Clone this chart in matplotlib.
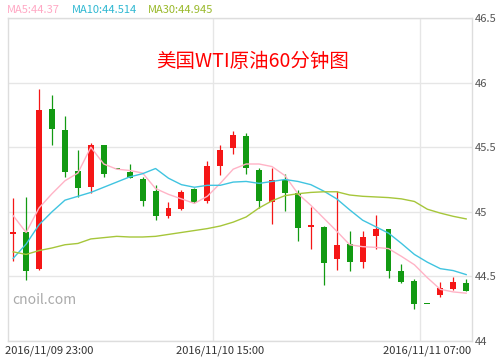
import matplotlib
matplotlib.use('Agg')
import matplotlib.pyplot as plt
import matplotlib.transforms as mtransforms

plt.rcParams['font.family'] = ['Noto Sans CJK SC', 'DejaVu Sans']

# hourly candles, 2016/11/09 23:00 .. 2016/11/11 10:00
x_labels = ['2016/11/09 23:00', '2016/11/10 15:00', '2016/11/11 07:00']
x_label_idx = [0, 16, 32]

opens = [44.825, 44.84, 44.56, 45.795, 45.633, 45.315, 45.192, 45.515, 45.338, 45.305,
         45.256, 45.162, 44.967, 45.02, 45.177, 45.085, 45.354, 45.49, 45.585, 45.321,
         45.072, 45.249, 45.149, 44.886, 44.885, 44.638, 44.751, 44.608, 44.815, 44.867,
         44.541, 44.462, 44.29, 44.354, 44.402, 44.448]
closes = [44.843, 44.54, 45.79, 45.64, 45.31, 45.182, 45.515, 45.295, 45.332, 45.264,
          45.085, 44.967, 45.028, 45.156, 45.079, 45.354, 45.482, 45.592, 45.341, 45.085,
          45.244, 45.144, 44.874, 44.895, 44.603, 44.746, 44.608, 44.808, 44.867, 44.541,
          44.456, 44.29, 44.285, 44.413, 44.459, 44.387]
highs = [45.11, 45.115, 45.95, 45.905, 45.738, 45.482, 45.533, 45.52, 45.338, 45.367,
         45.27, 45.208, 45.079, 45.172, 45.187, 45.392, 45.515, 45.623, 45.613, 45.341,
         45.336, 45.295, 45.167, 45.038, 44.89, 45.162, 44.849, 44.854, 44.977, 44.87,
         44.597, 44.482, 44.29, 44.456, 44.495, 44.482]
lows = [44.62, 44.47, 44.55, 45.515, 45.27, 45.115, 45.149, 45.27, 45.332, 45.262,
        45.046, 44.936, 44.951, 45.012, 45.069, 45.069, 45.285, 45.444, 45.295, 45.028,
        44.905, 45.008, 44.777, 44.713, 44.431, 44.546, 44.541, 44.567, 44.713, 44.49,
        44.452, 44.244, 44.285, 44.341, 44.392, 44.385]

ma5 = [44.97, 44.84, 45.03, 45.14, 45.24, 45.30, 45.50, 45.37, 45.33, 45.32,
       45.30, 45.18, 45.135, 45.10, 45.065, 45.12, 45.22, 45.33, 45.37, 45.37,
       45.35, 45.28, 45.14, 45.05, 44.95, 44.85, 44.745, 44.73, 44.725, 44.715,
       44.655, 44.59, 44.49, 44.40, 44.38, 44.37]
ma10 = [44.64, 44.75, 44.90, 45.00, 45.09, 45.12, 45.15, 45.19, 45.23, 45.27,
        45.295, 45.335, 45.26, 45.21, 45.19, 45.205, 45.205, 45.23, 45.235, 45.22,
        45.235, 45.25, 45.235, 45.21, 45.16, 45.10, 45.015, 44.935, 44.885, 44.835,
        44.755, 44.67, 44.61, 44.56, 44.545, 44.514]
ma30 = [44.69, 44.67, 44.70, 44.72, 44.745, 44.755, 44.79, 44.80, 44.81, 44.805,
        44.805, 44.81, 44.825, 44.84, 44.855, 44.87, 44.89, 44.92, 44.96, 45.03,
        45.085, 45.125, 45.14, 45.15, 45.155, 45.155, 45.13, 45.12, 45.115, 45.11,
        45.10, 45.08, 45.02, 44.99, 44.965, 44.945]

UP = '#f51616'
DOWN = '#129a12'
C_MA5 = '#ffb3c6'
C_MA10 = '#40c4e0'
C_MA30 = '#a6c63a'
GRID = '#e6e6e6'

fig = plt.figure(figsize=(5.0, 3.59), dpi=100)
ax = fig.add_axes([8 / 500, 18 / 359, 464 / 500, 323 / 359])

xs = list(range(len(opens)))
for i in xs:
    o, c, h, l = opens[i], closes[i], highs[i], lows[i]
    col = UP if c >= o else DOWN
    ax.vlines(i, l, h, color=col, linewidth=0.9, zorder=2)
    body = max(abs(c - o), 0.008)
    ax.bar(i, body, bottom=min(o, c), width=0.46, color=col, linewidth=0, zorder=2)

ax.plot(xs, ma5, color=C_MA5, linewidth=1.0, zorder=3)
ax.plot(xs, ma10, color=C_MA10, linewidth=1.0, zorder=3)
ax.plot(xs, ma30, color=C_MA30, linewidth=1.0, zorder=3)

ax.set_xlim(-0.4, 35.45)
ax.set_ylim(44, 46.5)

yt = [44, 44.5, 45, 45.5, 46, 46.5]
ax.set_yticks(yt)
ax.set_yticklabels(['44', '44.5', '45', '45.5', '46', '46.5'])
ax.yaxis.tick_right()
ax.tick_params(axis='y', length=0, pad=2, labelsize=8, labelcolor='#555555')
ax.grid(axis='y', color=GRID, linewidth=1)
for gx in [15.45, 31.45]:
    ax.axvline(gx, color=GRID, linewidth=1, zorder=0)
ax.set_axisbelow(True)

ax.set_xticks(x_label_idx)
ax.set_xticklabels(x_labels)
ax.tick_params(axis='x', length=0, pad=3, labelsize=8, labelcolor='#333333')
lbls = ax.get_xticklabels()
lbls[0].set_horizontalalignment('left')
lbls[0].set_transform(lbls[0].get_transform() +
                      mtransforms.ScaledTranslation(-8 / 100, 0, fig.dpi_scale_trans))

for sp in ax.spines.values():
    sp.set_color('#dddddd')
    sp.set_linewidth(1)

ax.text(0.527, 0.866, '美国WTI原油60分钟图', transform=ax.transAxes,
        ha='center', va='center', fontsize=14, color='#ff0000')
ax.text(0.01, 0.128, 'cnoil.com', transform=ax.transAxes,
        ha='left', va='center', fontsize=10, color='#aaaaaa')

fig.text(7 / 500, 1 - 10 / 359, 'MA5:44.37', color='#ffa8c4', fontsize=8, va='center')
fig.text(72 / 500, 1 - 10 / 359, 'MA10:44.514', color='#2fb8d2', fontsize=8, va='center')
fig.text(148 / 500, 1 - 10 / 359, 'MA30:44.945', color='#99b92a', fontsize=8, va='center')

fig.savefig('out.png', dpi=100)
